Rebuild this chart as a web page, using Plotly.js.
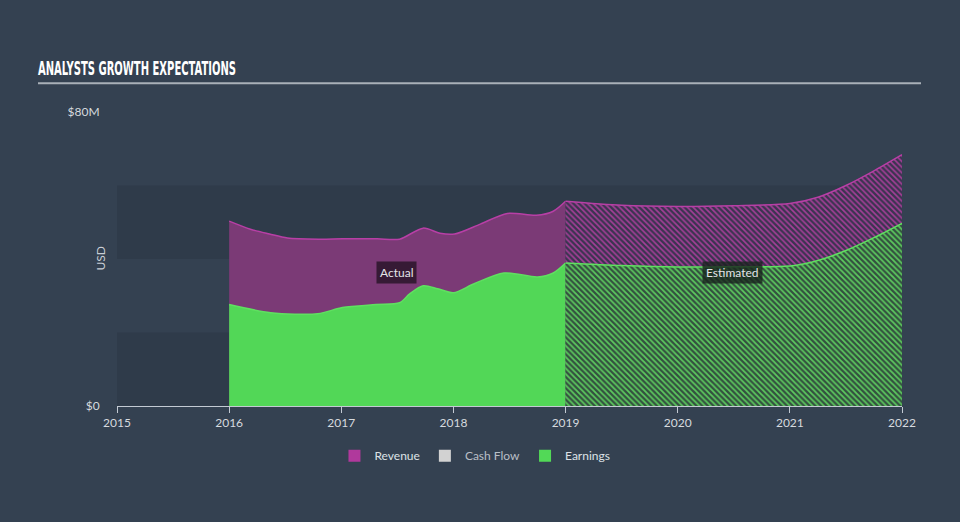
<!DOCTYPE html>
<html>
<head>
<meta charset="utf-8">
<script src="https://cdn.plot.ly/plotly-3.0.1.min.js"></script>
<style>
  html, body { margin: 0; padding: 0; background: #344151; }
  #chart { width: 960px; height: 522px; }
</style>
</head>
<body>
<div id="chart"></div>
<script>
// ---- Data (values in $M, x in decimal years) ----
const revYearsActual = [2016.0, 2016.19, 2016.36, 2016.52, 2016.81, 2017.01, 2017.32, 2017.52, 2017.73, 2017.88, 2018.01, 2018.24, 2018.48, 2018.74, 2018.89, 2019.0];
const revActual      = [50.3, 48.1, 46.8, 45.7, 45.4, 45.5, 45.5, 45.4, 48.4, 47.0, 46.8, 49.5, 52.4, 51.9, 53.0, 55.7];

const earnYearsActual = [2016.0, 2016.37, 2016.79, 2017.01, 2017.31, 2017.52, 2017.61, 2017.73, 2017.86, 2018.0, 2018.18, 2018.45, 2018.75, 2018.89, 2019.0];
const earnActual      = [27.6, 25.4, 25.1, 26.8, 27.6, 28.1, 30.5, 32.7, 31.9, 30.8, 33.2, 36.2, 35.1, 36.2, 38.9];

const yearsEst = [2019.0, 2019.5, 2020.0, 2020.5, 2021.0, 2021.25, 2021.5, 2021.75, 2022.0];
const revEst   = [55.7, 54.6, 54.3, 54.5, 55.1, 56.8, 60.0, 64.0, 68.4];
const earnEst  = [38.9, 38.2, 37.8, 37.9, 38.1, 39.6, 42.3, 45.8, 49.7];

const xTickVals = [2015, 2016, 2017, 2018, 2019, 2020, 2021, 2022];
const xTickText = ['2015', '2016', '2017', '2018', '2019', '2020', '2021', '2022'];
const yTickVals = [0, 80];
const yTickText = ['$0', '$80M'];
const legendNames = ['Revenue', 'Cash Flow', 'Earnings'];
const legendColors = ['#b0399c', '#d2d2d2', '#52d957'];

// ---- Styles ----
const REV_FILL = '#7b3a76';
const REV_LINE = '#b83fa6';
const EARN_FILL = '#52d757';
const EARN_LINE = '#5fe060';

const traces = [
  {
    x: revYearsActual, y: revActual, type: 'scatter', mode: 'lines',
    line: { color: REV_LINE, width: 1.5, shape: 'spline', smoothing: 0.8 },
    fill: 'tozeroy', fillcolor: REV_FILL, showlegend: false, hoverinfo: 'skip'
  },
  {
    x: yearsEst, y: revEst, type: 'scatter', mode: 'lines',
    line: { color: REV_LINE, width: 1.5, shape: 'spline', smoothing: 0.8 },
    fill: 'tozeroy',
    fillpattern: { shape: '\\', fgcolor: '#a53f98', bgcolor: '#3b3450', size: 4, solidity: 0.4 },
    showlegend: false, hoverinfo: 'skip'
  },
  {
    x: earnYearsActual, y: earnActual, type: 'scatter', mode: 'lines',
    line: { color: EARN_LINE, width: 1.5, shape: 'spline', smoothing: 0.8 },
    fill: 'tozeroy', fillcolor: EARN_FILL, showlegend: false, hoverinfo: 'skip'
  },
  {
    x: yearsEst, y: earnEst, type: 'scatter', mode: 'lines',
    line: { color: EARN_LINE, width: 1.5, shape: 'spline', smoothing: 0.8 },
    fill: 'tozeroy',
    fillpattern: { shape: '\\', fgcolor: '#5cc95e', bgcolor: '#33503f', size: 4, solidity: 0.45 },
    showlegend: false, hoverinfo: 'skip'
  }
];

// Legend entries (library legend, empty data)
legendNames.forEach(function (n, i) {
  traces.push({
    x: [null], y: [null], type: 'bar', name: i === 1 ? '<span style="color:#b9bfc7">' + n + '</span>' : n,
    marker: { color: legendColors[i] }, showlegend: true, hoverinfo: 'skip'
  });
});

const bandColor = '#2f3b4a';
const layout = {
  width: 960, height: 522,
  paper_bgcolor: '#344151', plot_bgcolor: 'rgba(0,0,0,0)',
  margin: { l: 117, r: 58, t: 112, b: 116 },
  font: { family: 'Lato, "Open Sans", sans-serif', color: '#d6dadf', size: 12 },
  title: {
    text: 'ANALYSTS GROWTH EXPECTATIONS',
    font: { family: '"DejaVu Sans Condensed", "Liberation Sans Narrow", "DejaVu Sans", sans-serif', size: 19, color: '#ffffff', weight: 'bold' },
    xref: 'container', yref: 'container', x: 0.0396, xanchor: 'left', y: 1 - 68 / 522, yanchor: 'middle'
  },
  xaxis: {
    range: [2015, 2022], tickvals: xTickVals, ticktext: xTickText,
    showgrid: false, zeroline: false, showline: true, linecolor: '#c3cad3', linewidth: 1,
    ticks: 'outside', ticklen: 6, tickcolor: '#c3cad3', tickwidth: 1,
    tickfont: { size: 12, color: '#d6dadf' }, fixedrange: true
  },
  yaxis: {
    range: [0, 80], tickvals: yTickVals, ticktext: yTickText,
    showgrid: false, zeroline: false, showline: false,
    ticks: 'outside', ticklen: 14, tickcolor: 'rgba(0,0,0,0)',
    tickfont: { size: 12, color: '#d6dadf' }, fixedrange: true
  },
  shapes: [
    { type: 'rect', xref: 'x', yref: 'y', x0: 2015, x1: 2022, y0: 0, y1: 20, fillcolor: bandColor, line: { width: 0 }, layer: 'below' },
    { type: 'rect', xref: 'x', yref: 'y', x0: 2015, x1: 2022, y0: 40, y1: 60, fillcolor: bandColor, line: { width: 0 }, layer: 'below' },
    { type: 'line', xref: 'paper', yref: 'paper', x0: (38 - 117) / 785, x1: (921 - 117) / 785, y0: (406 - 81) / 296, y1: (406 - 81) / 296, line: { color: '#a9b0b8', width: 2 } }
  ],
  annotations: [
    { text: 'USD', xref: 'paper', yref: 'paper', x: (90 - 117) / 785, y: 0.5, textangle: -90, showarrow: false, font: { size: 12, color: '#c9ced5' } },
    { text: 'Actual', xref: 'x', yref: 'y', x: 2017.49, y: 36.2, showarrow: false, bgcolor: 'rgba(35,18,35,0.78)', borderpad: 3, font: { size: 12, color: '#e4e4e8' } },
    { text: 'Estimated', xref: 'x', yref: 'y', x: 2020.49, y: 36.2, showarrow: false, bgcolor: 'rgba(25,35,30,0.8)', borderpad: 3, font: { size: 12, color: '#e4e4e8' } }
  ],
  legend: {
    orientation: 'h', x: 0.456, xanchor: 'center', y: -0.169, yanchor: 'middle',
    font: { size: 12, color: '#dde1e6' }, bgcolor: 'rgba(0,0,0,0)', itemwidth: 30
  },
  showlegend: true,
  barmode: 'overlay'
};

Plotly.newPlot('chart', traces, layout, { displayModeBar: false, staticPlot: true }).then(function () {
  // condense the title glyphs to match the narrow heading face
  const t = document.querySelector('.gtitle');
  if (t) {
    t.setAttribute('textLength', '198');
    t.setAttribute('lengthAdjust', 'spacingAndGlyphs');
  }
});
</script>
</body>
</html>
